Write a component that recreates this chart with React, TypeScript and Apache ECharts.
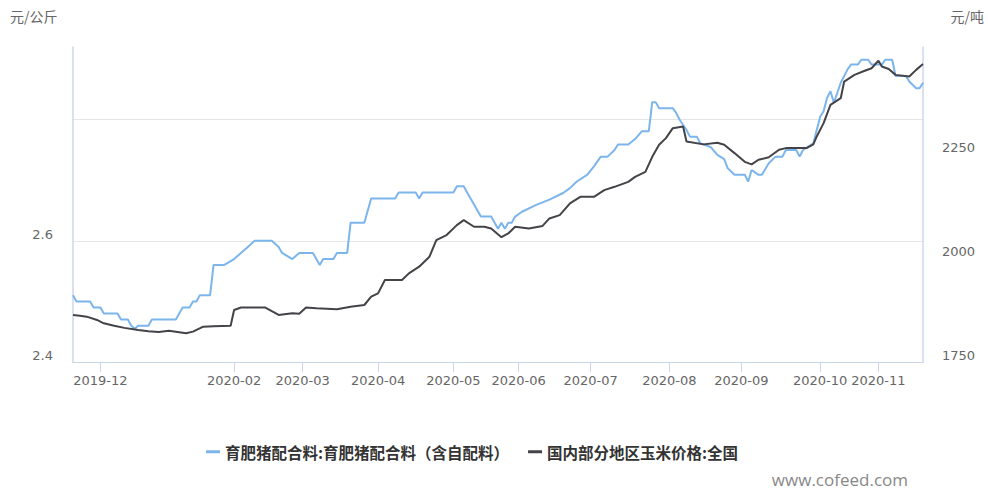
import React, { useEffect, useRef } from "react";
import * as echarts from "echarts";

// Trading calendar (working days shown on the category axis)
const tradingDays: [string, number[]][] = [
  ["2019-11", [20, 21, 22, 25, 26, 27, 28, 29]],
  ["2019-12", [2, 3, 4, 5, 6, 9, 10, 11, 12, 13, 16, 17, 18, 19, 20, 23, 24, 25, 26, 27, 30, 31]],
  ["2020-01", [2, 3, 6, 7, 8, 9, 10, 13, 14, 15, 16, 17, 19, 20, 21, 22, 23]],
  ["2020-02", [3, 4, 5, 6, 7, 10, 11, 12, 13, 14, 17, 18, 19, 20, 21, 24, 25, 26, 27, 28]],
  ["2020-03", [2, 3, 4, 5, 6, 9, 10, 11, 12, 13, 16, 17, 18, 19, 20, 23, 24, 25, 26, 27, 30, 31]],
  ["2020-04", [1, 2, 3, 7, 8, 9, 10, 13, 14, 15, 16, 17, 20, 21, 22, 23, 24, 26, 27, 28, 29, 30]],
  ["2020-05", [6, 7, 8, 9, 11, 12, 13, 14, 15, 18, 19, 20, 21, 22, 25, 26, 27, 28, 29]],
  ["2020-06", [1, 2, 3, 4, 5, 8, 9, 10, 11, 12, 15, 16, 17, 18, 19, 22, 23, 24, 28, 29, 30]],
  ["2020-07", [1, 2, 3, 6, 7, 8, 9, 10, 13, 14, 15, 16, 17, 20, 21, 22, 23, 24, 27, 28, 29, 30, 31]],
  ["2020-08", [3, 4, 5, 6, 7, 10, 11, 12, 13, 14, 17, 18, 19, 20, 21, 24, 25, 26, 27, 28, 31]],
  ["2020-09", [1, 2, 3, 4, 7, 8, 9, 10, 11, 14, 15, 16, 17, 18, 21, 22, 23, 24, 25, 27, 28, 29, 30]],
  ["2020-10", [9, 10, 12, 13, 14, 15, 16, 19, 20, 21, 22, 23, 26, 27, 28, 29, 30]],
  ["2020-11", [2, 3, 4, 5, 6, 9, 10, 11, 12, 13, 16, 17, 18, 19]],
];

// Month labels shown on the x axis
const labelMonths = [
  "2019-12", "2020-02", "2020-03", "2020-04", "2020-05", "2020-06",
  "2020-07", "2020-08", "2020-09", "2020-10", "2020-11",
];

const seriesNames = [
  "育肥猪配合料:育肥猪配合料（含自配料）",
  "国内部分地区玉米价格:全国",
];

// 元/公斤
const feedPrice: [string, number][] = [
  ["2019-11-20", 2.51], ["2019-11-21", 2.5], ["2019-11-27", 2.5], ["2019-11-28", 2.49],
  ["2019-12-02", 2.49], ["2019-12-03", 2.48], ["2019-12-09", 2.48], ["2019-12-10", 2.47],
  ["2019-12-12", 2.47], ["2019-12-13", 2.46], ["2019-12-16", 2.455], ["2019-12-17", 2.46],
  ["2019-12-20", 2.46], ["2019-12-23", 2.47], ["2020-01-02", 2.47], ["2020-01-06", 2.49],
  ["2020-01-08", 2.49], ["2020-01-09", 2.5], ["2020-01-10", 2.5], ["2020-01-13", 2.51],
  ["2020-01-16", 2.51], ["2020-01-17", 2.56], ["2020-01-21", 2.56], ["2020-02-03", 2.57],
  ["2020-02-05", 2.58], ["2020-02-07", 2.59], ["2020-02-11", 2.6], ["2020-02-18", 2.6],
  ["2020-02-20", 2.59], ["2020-02-21", 2.58], ["2020-02-26", 2.57], ["2020-02-28", 2.58],
  ["2020-03-05", 2.58], ["2020-03-09", 2.56], ["2020-03-10", 2.57], ["2020-03-13", 2.57],
  ["2020-03-16", 2.58], ["2020-03-19", 2.58], ["2020-03-20", 2.63], ["2020-03-26", 2.63],
  ["2020-03-30", 2.67], ["2020-04-09", 2.67], ["2020-04-10", 2.68], ["2020-04-17", 2.68],
  ["2020-04-20", 2.67], ["2020-04-21", 2.68], ["2020-05-06", 2.68], ["2020-05-07", 2.69],
  ["2020-05-09", 2.69], ["2020-05-11", 2.68], ["2020-05-12", 2.67], ["2020-05-15", 2.64],
  ["2020-05-20", 2.64], ["2020-05-22", 2.62], ["2020-05-25", 2.63], ["2020-05-26", 2.62],
  ["2020-05-27", 2.63], ["2020-05-28", 2.63], ["2020-05-29", 2.64], ["2020-06-02", 2.648],
  ["2020-06-08", 2.659], ["2020-06-12", 2.668], ["2020-06-18", 2.679], ["2020-06-22", 2.687],
  ["2020-06-24", 2.698], ["2020-06-30", 2.709], ["2020-07-02", 2.723], ["2020-07-06", 2.739],
  ["2020-07-08", 2.739], ["2020-07-10", 2.75], ["2020-07-13", 2.759], ["2020-07-16", 2.759],
  ["2020-07-20", 2.768], ["2020-07-22", 2.781], ["2020-07-24", 2.781], ["2020-07-27", 2.829],
  ["2020-07-28", 2.829], ["2020-07-29", 2.819], ["2020-08-04", 2.819], ["2020-08-05", 2.811],
  ["2020-08-06", 2.8], ["2020-08-10", 2.783], ["2020-08-11", 2.772], ["2020-08-13", 2.772],
  ["2020-08-14", 2.761], ["2020-08-19", 2.755], ["2020-08-21", 2.742], ["2020-08-25", 2.735],
  ["2020-08-26", 2.72], ["2020-08-28", 2.709], ["2020-09-02", 2.709], ["2020-09-03", 2.698],
  ["2020-09-04", 2.717], ["2020-09-08", 2.709], ["2020-09-09", 2.709], ["2020-09-11", 2.728],
  ["2020-09-15", 2.739], ["2020-09-17", 2.739], ["2020-09-18", 2.75], ["2020-09-23", 2.75],
  ["2020-09-24", 2.739], ["2020-09-25", 2.75], ["2020-09-29", 2.761], ["2020-10-09", 2.805],
  ["2020-10-10", 2.814], ["2020-10-12", 2.836], ["2020-10-13", 2.847], ["2020-10-14", 2.828],
  ["2020-10-16", 2.861], ["2020-10-20", 2.883], ["2020-10-21", 2.891], ["2020-10-23", 2.891],
  ["2020-10-26", 2.899], ["2020-10-28", 2.899], ["2020-10-29", 2.891], ["2020-11-03", 2.891],
  ["2020-11-04", 2.899], ["2020-11-06", 2.899], ["2020-11-09", 2.872], ["2020-11-12", 2.872],
  ["2020-11-13", 2.863], ["2020-11-17", 2.852], ["2020-11-18", 2.852], ["2020-11-19", 2.861],
];

// 元/吨
const cornPrice: [string, number][] = [
  ["2019-11-20", 1863], ["2019-11-22", 1861], ["2019-11-26", 1859], ["2019-11-29", 1851],
  ["2019-12-03", 1843], ["2019-12-06", 1837], ["2019-12-11", 1832], ["2019-12-17", 1827],
  ["2019-12-20", 1824], ["2019-12-25", 1822], ["2019-12-30", 1825], ["2020-01-07", 1819],
  ["2020-01-09", 1823], ["2020-01-14", 1835], ["2020-01-17", 1836], ["2020-01-23", 1837],
  ["2020-02-03", 1875], ["2020-02-05", 1881], ["2020-02-14", 1881], ["2020-02-20", 1863],
  ["2020-02-26", 1867], ["2020-02-28", 1866], ["2020-03-03", 1881], ["2020-03-06", 1879],
  ["2020-03-16", 1877], ["2020-03-20", 1883], ["2020-03-26", 1887], ["2020-03-30", 1907],
  ["2020-04-01", 1915], ["2020-04-03", 1947], ["2020-04-13", 1947], ["2020-04-15", 1963],
  ["2020-04-20", 1979], ["2020-04-23", 2003], ["2020-04-26", 2043], ["2020-04-29", 2055],
  ["2020-05-07", 2079], ["2020-05-09", 2091], ["2020-05-13", 2075], ["2020-05-18", 2075],
  ["2020-05-20", 2071], ["2020-05-25", 2050], ["2020-05-27", 2059], ["2020-05-29", 2075],
  ["2020-06-04", 2071], ["2020-06-10", 2077], ["2020-06-12", 2095], ["2020-06-17", 2103],
  ["2020-06-22", 2131], ["2020-06-28", 2147], ["2020-07-02", 2147], ["2020-07-07", 2163],
  ["2020-07-10", 2171], ["2020-07-15", 2180], ["2020-07-16", 2183], ["2020-07-20", 2195],
  ["2020-07-23", 2207], ["2020-07-27", 2243], ["2020-07-29", 2272], ["2020-07-31", 2288],
  ["2020-08-04", 2312], ["2020-08-07", 2316], ["2020-08-10", 2280], ["2020-08-17", 2273],
  ["2020-08-21", 2277], ["2020-08-25", 2272], ["2020-08-28", 2252], ["2020-09-02", 2231],
  ["2020-09-04", 2225], ["2020-09-08", 2236], ["2020-09-11", 2242], ["2020-09-16", 2260],
  ["2020-09-18", 2264], ["2020-09-27", 2264], ["2020-09-29", 2273], ["2020-09-30", 2292],
  ["2020-10-10", 2324], ["2020-10-13", 2368], ["2020-10-16", 2384], ["2020-10-19", 2424],
  ["2020-10-22", 2440], ["2020-10-27", 2450], ["2020-10-29", 2456], ["2020-11-02", 2474],
  ["2020-11-03", 2460], ["2020-11-05", 2454], ["2020-11-09", 2440], ["2020-11-13", 2436],
  ["2020-11-17", 2452], ["2020-11-19", 2466],
];

const categories: string[] = tradingDays.flatMap(([ym, days]) =>
  days.map((d) => `${ym}-${String(d).padStart(2, "0")}`)
);
const monthFirst = new Set<string>(
  tradingDays
    .filter(([ym]) => labelMonths.includes(ym))
    .map(([ym, days]) => `${ym}-${String(days[0]).padStart(2, "0")}`)
);

const AXIS_COLOR = "#ccd6eb";
const NUM_FONT = "DejaVu Sans";
const CJK_FONT = "Noto Sans CJK SC";

export default function App() {
  const ref = useRef<HTMLDivElement>(null);
  useEffect(() => {
    if (!ref.current) return;
    const chart = echarts.init(ref.current, undefined, { renderer: "svg" });
    const showMonth = (_i: number, v: string) => monthFirst.has(v);
    chart.setOption({
      animation: false,
      backgroundColor: "#ffffff",
      grid: { left: 73, right: 65, top: 47, bottom: 131, containLabel: false },
      legend: {
        left: 201,
        top: 439,
        icon: "rect",
        itemWidth: 14,
        itemHeight: 3,
        itemGap: 19,
        textStyle: { color: "#333333", fontSize: 15.5, fontWeight: "bold", fontFamily: CJK_FONT },
        data: seriesNames,
      },
      xAxis: {
        type: "category",
        data: categories,
        boundaryGap: false,
        axisLine: { show: true, lineStyle: { color: AXIS_COLOR, width: 1 } },
        axisTick: {
          show: true,
          interval: showMonth,
          length: 10,
          lineStyle: { color: AXIS_COLOR },
        },
        axisLabel: {
          interval: showMonth,
          formatter: (v: string) => v.slice(0, 7),
          color: "#666666",
          fontSize: 13,
          fontFamily: NUM_FONT,
          margin: 12,
        },
        splitLine: { show: false },
      },
      yAxis: [
        {
          type: "value",
          position: "left",
          min: 2.4,
          max: 2.92,
          interval: 0.2,
          axisLine: { show: true, lineStyle: { color: AXIS_COLOR, width: 1.5 } },
          axisTick: { show: false },
          axisLabel: {
            color: "#666666",
            fontSize: 13,
            fontFamily: NUM_FONT,
            margin: 20,
            verticalAlign: "bottom",
            showMaxLabel: false,
            formatter: (v: number) => (v > 2.7 ? "" : v.toFixed(1)),
          },
          splitLine: {
            show: true,
            showMinLine: false,
            showMaxLine: false,
            lineStyle: { color: "#e6e6e6", width: 1 },
          },
        },
        {
          type: "value",
          position: "right",
          min: 1750,
          max: 2507,
          interval: 250,
          axisLine: { show: true, lineStyle: { color: AXIS_COLOR, width: 1.5 } },
          axisTick: { show: false },
          axisLabel: {
            color: "#666666",
            fontSize: 13,
            fontFamily: NUM_FONT,
            margin: 19,
            verticalAlign: "bottom",
            showMaxLabel: false,
            formatter: (v: number) => (v > 2300 ? "" : String(v)),
          },
          splitLine: { show: false },
        },
      ],
      series: [
        {
          name: seriesNames[0],
          type: "line",
          yAxisIndex: 0,
          data: feedPrice,
          showSymbol: false,
          symbol: "none",
          lineStyle: { color: "#7cb5ec", width: 2 },
          itemStyle: { color: "#7cb5ec" },
        },
        {
          name: seriesNames[1],
          type: "line",
          yAxisIndex: 1,
          data: cornPrice,
          showSymbol: false,
          symbol: "none",
          lineStyle: { color: "#434348", width: 2 },
          itemStyle: { color: "#434348" },
        },
      ],
      graphic: [
        {
          type: "text",
          left: 10,
          top: 9,
          style: { text: "元/公斤", fill: "#666666", font: `14px "${CJK_FONT}"` },
        },
        {
          type: "text",
          right: 4,
          top: 9,
          style: { text: "元/吨", fill: "#666666", font: `14px "${CJK_FONT}"` },
        },
        {
          type: "text",
          right: 80,
          top: 471,
          style: { text: "www.cofeed.com", fill: "#888888", font: `17px "Open Sans"` },
        },
      ],
    });
    return () => chart.dispose();
  }, []);
  return (
    <div
      ref={ref}
      style={{ position: "absolute", left: 0, top: 0, width: 988, height: 493, background: "#fff" }}
    />
  );
}
